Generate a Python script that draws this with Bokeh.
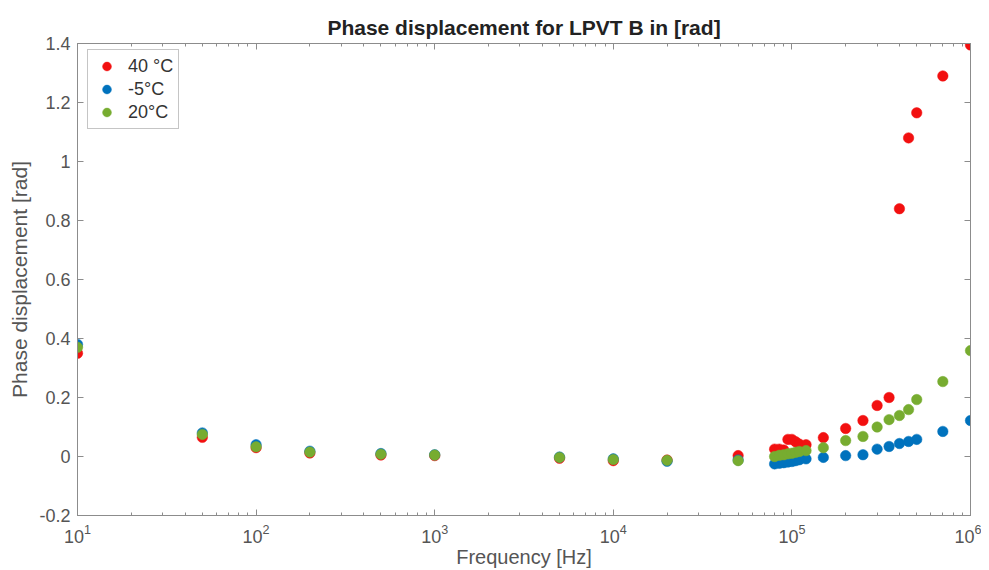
from bokeh.plotting import figure
from bokeh.models import FixedTicker, LogAxis, LinearAxis, LogTicker, Legend, LegendItem, Range1d
from bokeh.embed import file_html
from bokeh.resources import INLINE

freq = [10, 50, 100, 200, 500, 1000, 5000, 10000, 20000, 50000,
        80000, 85000, 90000, 95000, 100000, 105000, 110000, 120000,
        150000, 200000, 250000, 300000, 350000, 400000, 450000, 500000,
        700000, 1000000]

red_40 = [0.35, 0.065, 0.03, 0.012, 0.005, 0.003, -0.006, -0.014, -0.012, 0.003,
          0.025, 0.025, 0.022, 0.058, 0.058, 0.05, 0.042, 0.04,
          0.064, 0.095, 0.122, 0.173, 0.20, 0.84, 1.08, 1.165,
          1.29, 1.395]

blue_m5 = [0.38, 0.08, 0.04, 0.018, 0.01, 0.006, -0.002, -0.008, -0.016, -0.012,
           -0.025, -0.023, -0.021, -0.019, -0.017, -0.014, -0.011, -0.008,
           -0.003, 0.003, 0.006, 0.025, 0.034, 0.044, 0.051, 0.058,
           0.085, 0.122]

green_20 = [0.37, 0.075, 0.033, 0.015, 0.008, 0.005, -0.003, -0.01, -0.013, -0.014,
            0.0, 0.004, 0.006, 0.009, 0.011, 0.014, 0.017, 0.02,
            0.03, 0.054, 0.068, 0.10, 0.125, 0.139, 0.159, 0.193,
            0.254, 0.359]

series_labels = ["40 °C", "-5°C", "20°C"]
series_colors = ["#F21010", "#0072BD", "#77AC30"]

y_ticks = [-0.2, 0, 0.2, 0.4, 0.6, 0.8, 1, 1.2, 1.4]
y_tick_labels = ["-0.2", "0", "0.2", "0.4", "0.6", "0.8", "1", "1.2", "1.4"]

FONT = "Liberation Sans"
GREY = "#555555"
AXC = "#8c8c8c"

p = figure(x_axis_type="log", frame_width=893, frame_height=472,
           x_range=Range1d(10, 1e6), y_range=Range1d(-0.2, 1.4),
           output_backend="svg", toolbar_location=None,
           min_border_left=77, min_border_right=11, min_border_top=43, min_border_bottom=50,
           title="Phase displacement for LPVT B in [rad]")
p.title.align = "center"
p.title.text_font = FONT
p.title.text_font_size = "21px"
p.title.text_font_style = "bold"
p.title.text_color = "#222222"
p.grid.visible = False
p.outline_line_color = AXC
p.background_fill_color = "white"
p.border_fill_color = "white"

renderers = []
for ys, c in zip([red_40, blue_m5, green_20], series_colors):
    r = p.scatter(freq, ys, size=10.5, fill_color=c, line_color=c, line_width=0.5)
    renderers.append(r)

legend = Legend(items=[LegendItem(label=l, renderers=[r]) for l, r in zip(series_labels, renderers)],
                location=(10, 386), margin=0)
legend.label_text_font = FONT
legend.label_text_font_size = "18px"
legend.label_text_color = "#333333"
legend.border_line_color = "#8c8c8c"
legend.border_line_width = 1
legend.spacing = 1
legend.padding = 5
legend.glyph_width = 27
legend.glyph_height = 22
legend.label_standoff = 8
p.add_layout(legend)

xa = p.xaxis[0]
xa.ticker = LogTicker(num_minor_ticks=10)
xa.axis_label = "Frequency [Hz]"
ya = p.yaxis[0]
ya.ticker = FixedTicker(ticks=y_ticks)
ya.major_label_overrides = dict(zip(y_ticks, y_tick_labels))
ya.axis_label = "Phase displacement [rad]"

for ax in [xa, ya]:
    ax.axis_line_color = AXC
    ax.major_tick_line_color = AXC
    ax.minor_tick_line_color = AXC
    ax.major_tick_in = 6
    ax.major_tick_out = 0
    ax.minor_tick_in = 3
    ax.minor_tick_out = 0
    ax.major_label_text_font = FONT
    ax.major_label_text_font_size = "18px"
    ax.major_label_text_color = GREY
    ax.axis_label_text_font = FONT
    ax.axis_label_text_font_size = "21px"
    ax.axis_label_text_font_style = "normal"
    ax.axis_label_text_color = GREY
ya.minor_tick_line_color = None
xa.axis_label_text_font_size = "20px"
xa.major_label_standoff = 8
xa.axis_label_standoff = 0
ya.major_label_standoff = 7
ya.axis_label_standoff = 5

top = LogAxis(ticker=LogTicker(num_minor_ticks=10), major_label_text_font_size="1px",
              major_label_text_color=None,
              axis_line_color=AXC, major_tick_line_color=AXC, minor_tick_line_color=AXC,
              major_tick_in=6, major_tick_out=0, minor_tick_in=3, minor_tick_out=0,
              major_label_standoff=0)
right = LinearAxis(ticker=FixedTicker(ticks=y_ticks), major_label_text_font_size="1px",
                   major_label_text_color=None,
                   axis_line_color=AXC, major_tick_line_color=AXC, minor_tick_line_color=None,
                   major_tick_in=6, major_tick_out=0, major_label_standoff=0)
p.add_layout(top, "above")
p.add_layout(right, "right")

open("out.html", "w").write(file_html(p, INLINE))
